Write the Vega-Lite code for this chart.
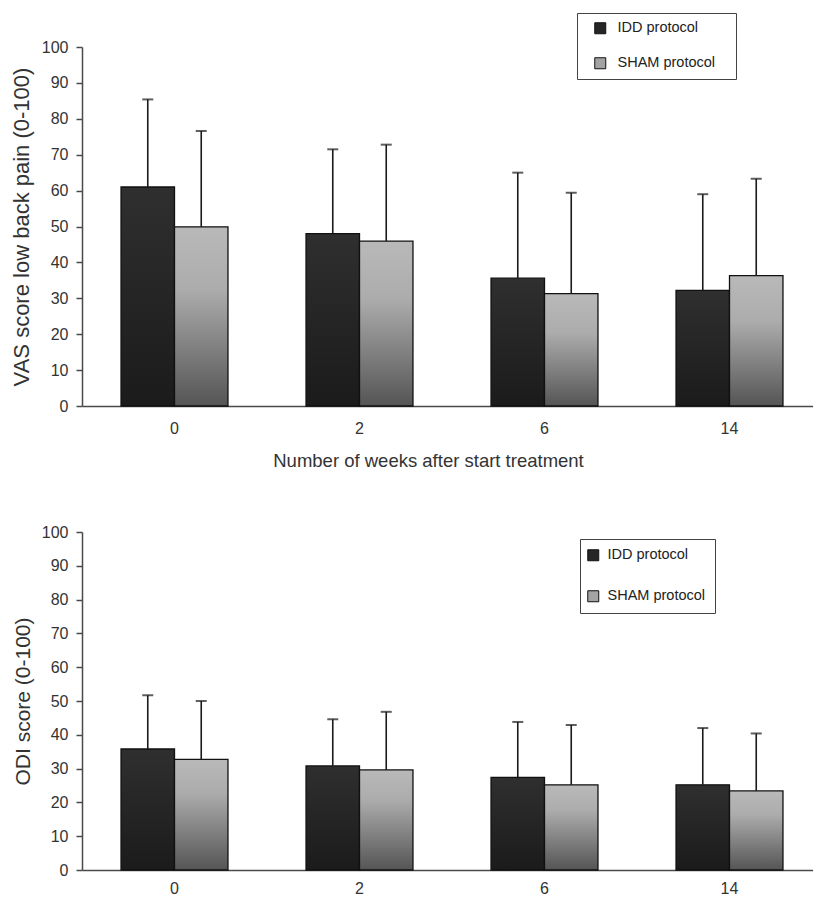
{
  "$schema": "https://vega.github.io/schema/vega-lite/v6.json",
  "background": "white",
  "padding": {"left": 10, "top": 12, "right": 0, "bottom": 0},
  "spacing": 54,
  "config": {
    "font": "Liberation Sans",
    "view": {"stroke": null},
    "axis": {
      "labelFont": "Liberation Sans", "labelFontSize": 16, "labelColor": "#333",
      "titleFont": "Liberation Sans", "titleColor": "#333", "titleFontWeight": "normal",
      "domainColor": "#4a4a4a", "domainWidth": 1.5, "tickColor": "#4a4a4a", "tickWidth": 1.5,
      "tickSize": 6, "grid": false, "labelPadding": 8, "labelOverlap": false
    },
    "legend": {
      "labelFont": "Liberation Sans", "labelFontSize": 14.5, "labelColor": "#222",
      "symbolType": "square", "symbolSize": 121, "symbolStrokeColor": "#111", "symbolStrokeWidth": 1,
      "symbolOpacity": 1, "strokeColor": "#444"
    }
  },
  "datasets": {
    "vas": [
      {"week": "0", "group": "IDD protocol", "mean": 61.0, "upper": 85.4},
      {"week": "0", "group": "SHAM protocol", "mean": 49.9, "upper": 76.6},
      {"week": "2", "group": "IDD protocol", "mean": 48.0, "upper": 71.5},
      {"week": "2", "group": "SHAM protocol", "mean": 45.9, "upper": 72.8},
      {"week": "6", "group": "IDD protocol", "mean": 35.6, "upper": 65.0},
      {"week": "6", "group": "SHAM protocol", "mean": 31.3, "upper": 59.4},
      {"week": "14", "group": "IDD protocol", "mean": 32.2, "upper": 59.0},
      {"week": "14", "group": "SHAM protocol", "mean": 36.3, "upper": 63.3}
    ],
    "odi": [
      {"week": "0", "group": "IDD protocol", "mean": 35.8, "upper": 51.7},
      {"week": "0", "group": "SHAM protocol", "mean": 32.7, "upper": 50.0},
      {"week": "2", "group": "IDD protocol", "mean": 30.8, "upper": 44.6},
      {"week": "2", "group": "SHAM protocol", "mean": 29.6, "upper": 46.8},
      {"week": "6", "group": "IDD protocol", "mean": 27.4, "upper": 43.8},
      {"week": "6", "group": "SHAM protocol", "mean": 25.2, "upper": 42.9},
      {"week": "14", "group": "IDD protocol", "mean": 25.2, "upper": 42.0},
      {"week": "14", "group": "SHAM protocol", "mean": 23.4, "upper": 40.4}
    ]
  },
  "resolve": {"scale": {"color": "independent"}, "legend": {"color": "independent"}},
  "vconcat": [
    {
      "width": 740,
      "height": 359,
      "data": {"name": "vas"},
      "encoding": {
        "x": {
          "field": "week", "type": "ordinal", "sort": ["0", "2", "6", "14"],
          "scale": {"paddingInner": 0, "paddingOuter": 0},
          "axis": {"title": "Number of weeks after start treatment", "labelAngle": 0, "ticks": false,
                   "labelPadding": 14, "titlePadding": 15, "titleFontSize": 18.5, "titleX": 346, "titleAlign": "center"}
        },
        "xOffset": {
          "field": "group", "type": "nominal", "sort": ["IDD protocol", "SHAM protocol"],
          "scale": {"paddingInner": 0, "paddingOuter": 0.73}
        }
      },
      "layer": [
        {
          "mark": {"type": "bar", "stroke": "#111", "strokeWidth": 1.3},
          "encoding": {
            "y": {"field": "mean", "type": "quantitative", "title": "VAS score low back pain (0-100)",
                  "scale": {"domain": [0, 100], "nice": false},
                  "axis": {"values": [0, 10, 20, 30, 40, 50, 60, 70, 80, 90, 100], "titleFontSize": 22, "titlePadding": 8}},
            "fill": {
              "condition": {"test": "datum.group === 'IDD protocol'",
                "value": {"gradient": "linear", "x1": 0, "y1": 0, "x2": 0, "y2": 1,
                  "stops": [{"offset": 0, "color": "#2f2f2f"}, {"offset": 1, "color": "#1b1b1b"}]}},
              "value": {"gradient": "linear", "x1": 0, "y1": 0, "x2": 0, "y2": 1,
                "stops": [{"offset": 0, "color": "#b9b9b9"}, {"offset": 0.35, "color": "#acacac"}, {"offset": 1, "color": "#555555"}]}
            }
          }
        },
        {
          "mark": {"type": "rule", "color": "#1a1a1a", "strokeWidth": 1.6},
          "encoding": {
            "y": {"field": "mean", "type": "quantitative", "title": "VAS score low back pain (0-100)",
                  "axis": {"values": [0, 10, 20, 30, 40, 50, 60, 70, 80, 90, 100], "titleFontSize": 22, "titlePadding": 8}},
            "y2": {"field": "upper"}
          }
        },
        {
          "mark": {"type": "tick", "orient": "horizontal", "size": 11, "thickness": 2, "color": "#1a1a1a"},
          "encoding": {
            "y": {"field": "upper", "type": "quantitative", "title": "VAS score low back pain (0-100)",
                  "axis": {"values": [0, 10, 20, 30, 40, 50, 60, 70, 80, 90, 100], "titleFontSize": 22, "titlePadding": 8}}
          }
        },
        {
          "mark": {"type": "square", "opacity": 0},
          "encoding": {
            "y": {"field": "mean", "type": "quantitative", "title": "VAS score low back pain (0-100)",
                  "axis": {"values": [0, 10, 20, 30, 40, 50, 60, 70, 80, 90, 100], "titleFontSize": 22, "titlePadding": 8}},
            "color": {
              "field": "group", "type": "nominal",
              "scale": {"domain": ["IDD protocol", "SHAM protocol"], "range": ["#262626", "#a3a3a3"]},
              "legend": {"title": "\u00a0", "titleOrient": "right", "titleFontSize": 10, "titlePadding": 13,
                         "orient": "none", "legendX": 495, "legendY": -34, "padding": 8,
                         "rowPadding": 19, "symbolOffset": 8, "labelOffset": 10}
            }
          }
        }
      ]
    },
    {
      "width": 740,
      "height": 338,
      "data": {"name": "odi"},
      "encoding": {
        "x": {
          "field": "week", "type": "ordinal", "sort": ["0", "2", "6", "14"],
          "scale": {"paddingInner": 0, "paddingOuter": 0},
          "axis": {"title": null, "labelAngle": 0, "ticks": false, "labelPadding": 10.5}
        },
        "xOffset": {
          "field": "group", "type": "nominal", "sort": ["IDD protocol", "SHAM protocol"],
          "scale": {"paddingInner": 0, "paddingOuter": 0.73}
        }
      },
      "layer": [
        {
          "mark": {"type": "bar", "stroke": "#111", "strokeWidth": 1.3},
          "encoding": {
            "y": {"field": "mean", "type": "quantitative", "title": "ODI score (0-100)",
                  "scale": {"domain": [0, 100], "nice": false},
                  "axis": {"values": [0, 10, 20, 30, 40, 50, 60, 70, 80, 90, 100], "titleFontSize": 21, "titlePadding": 8}},
            "fill": {
              "condition": {"test": "datum.group === 'IDD protocol'",
                "value": {"gradient": "linear", "x1": 0, "y1": 0, "x2": 0, "y2": 1,
                  "stops": [{"offset": 0, "color": "#2f2f2f"}, {"offset": 1, "color": "#1b1b1b"}]}},
              "value": {"gradient": "linear", "x1": 0, "y1": 0, "x2": 0, "y2": 1,
                "stops": [{"offset": 0, "color": "#b9b9b9"}, {"offset": 0.3, "color": "#acacac"}, {"offset": 1, "color": "#555555"}]}
            }
          }
        },
        {
          "mark": {"type": "rule", "color": "#1a1a1a", "strokeWidth": 1.6},
          "encoding": {
            "y": {"field": "mean", "type": "quantitative", "title": "ODI score (0-100)",
                  "axis": {"values": [0, 10, 20, 30, 40, 50, 60, 70, 80, 90, 100], "titleFontSize": 21, "titlePadding": 8}},
            "y2": {"field": "upper"}
          }
        },
        {
          "mark": {"type": "tick", "orient": "horizontal", "size": 11, "thickness": 2, "color": "#1a1a1a"},
          "encoding": {
            "y": {"field": "upper", "type": "quantitative", "title": "ODI score (0-100)",
                  "axis": {"values": [0, 10, 20, 30, 40, 50, 60, 70, 80, 90, 100], "titleFontSize": 21, "titlePadding": 8}}
          }
        },
        {
          "mark": {"type": "square", "opacity": 0},
          "encoding": {
            "y": {"field": "mean", "type": "quantitative", "title": "ODI score (0-100)",
                  "axis": {"values": [0, 10, 20, 30, 40, 50, 60, 70, 80, 90, 100], "titleFontSize": 21, "titlePadding": 8}},
            "color": {
              "field": "group", "type": "nominal",
              "scale": {"domain": ["IDD protocol", "SHAM protocol"], "range": ["#262626", "#a3a3a3"]},
              "legend": {"title": null, "orient": "none", "legendX": 498, "legendY": 7, "padding": 9,
                         "rowPadding": 25, "symbolOffset": -3, "labelOffset": 7}
            }
          }
        }
      ]
    }
  ]
}
